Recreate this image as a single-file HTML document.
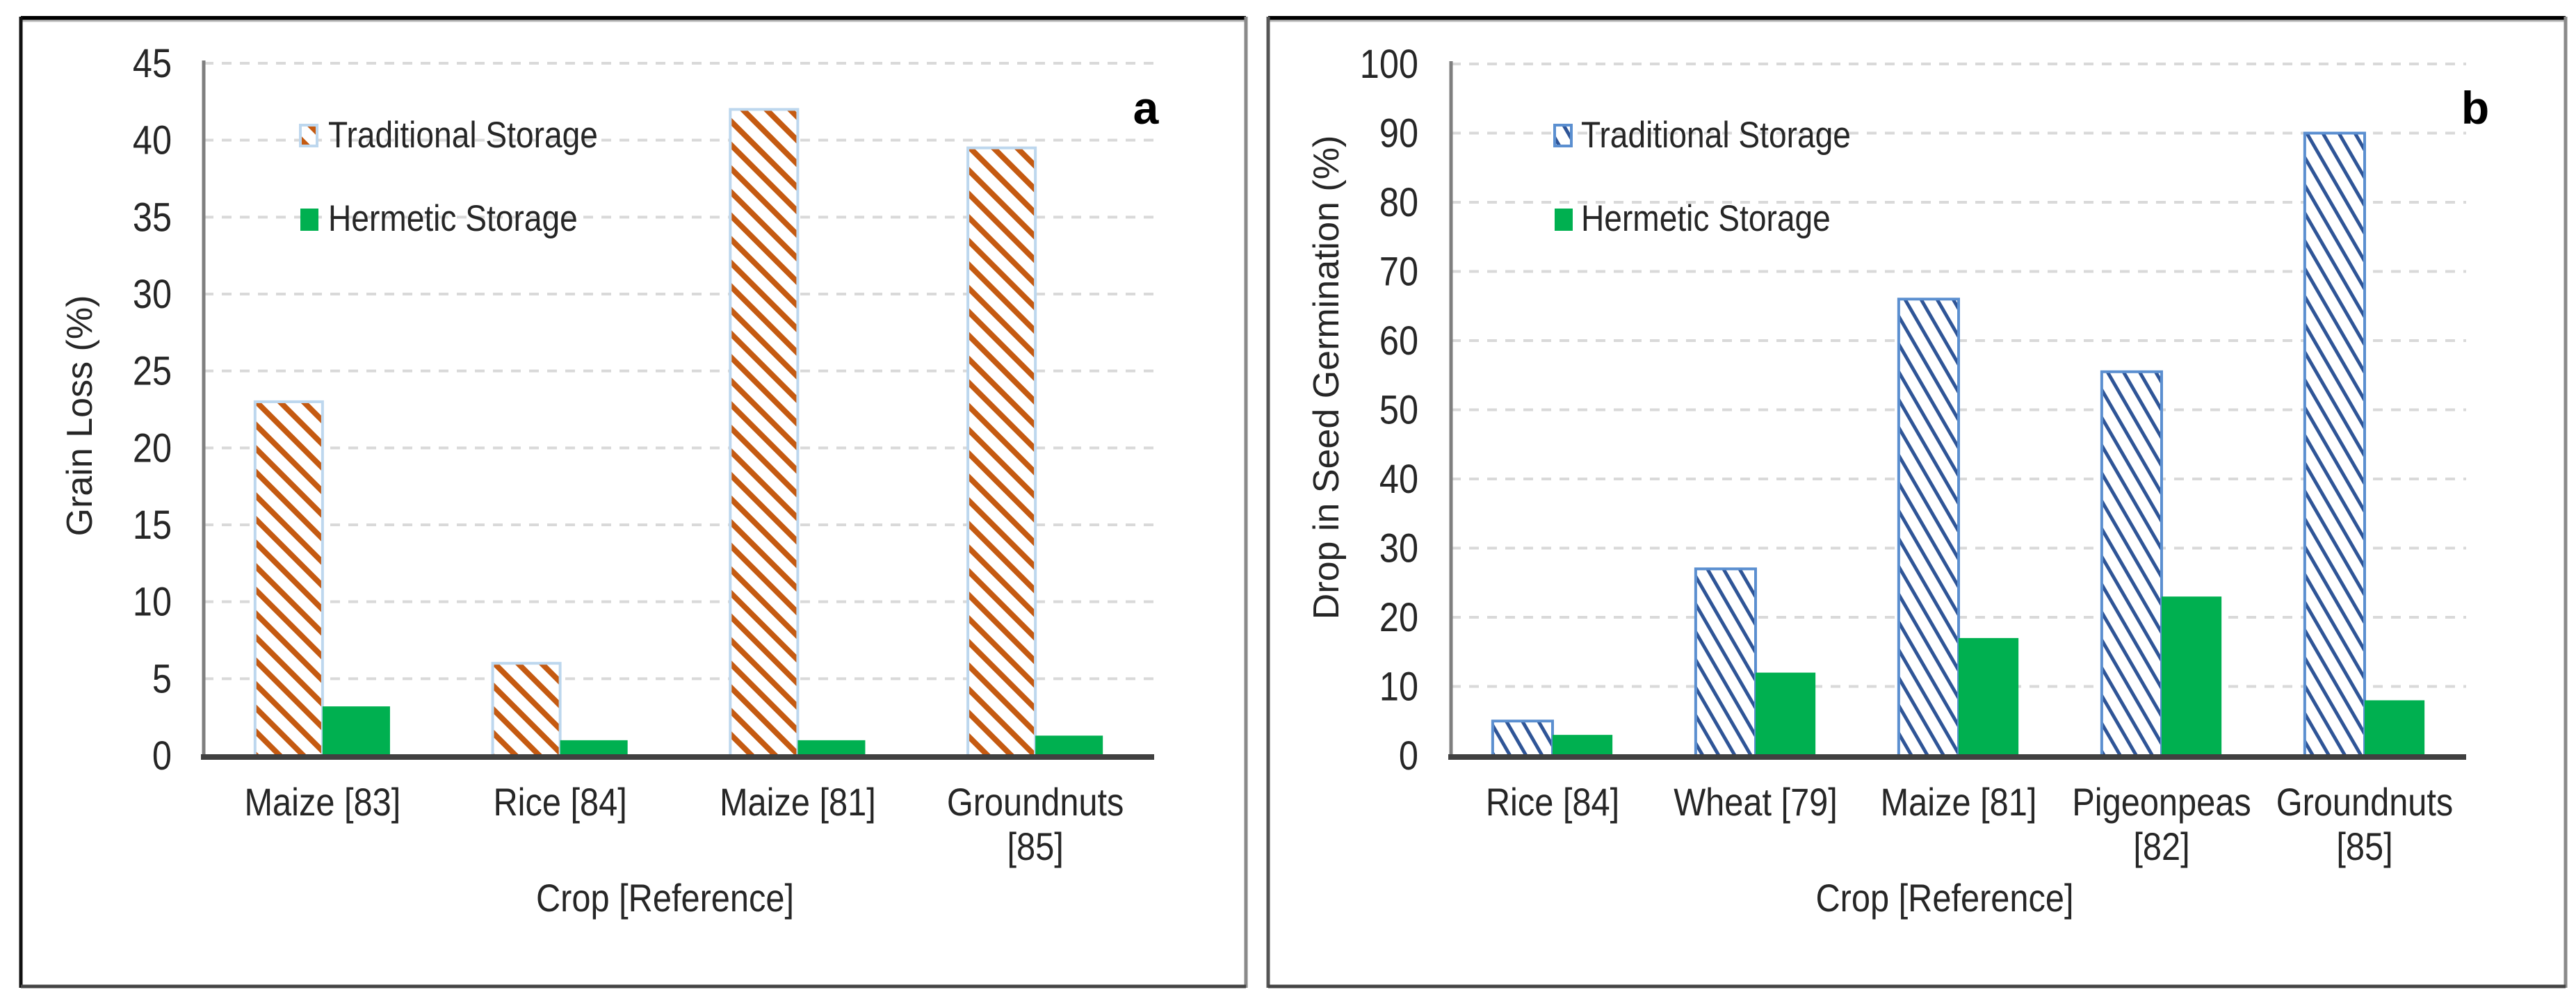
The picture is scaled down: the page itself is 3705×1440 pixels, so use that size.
<!DOCTYPE html>
<html><head><meta charset="utf-8"><style>
html,body{margin:0;padding:0;background:#fff;}
svg{display:block;font-family:"Liberation Sans",Arial,sans-serif;}
</style></head><body>
<svg id="fig" width="3705" height="1440" viewBox="0 0 3705 1440" xmlns="http://www.w3.org/2000/svg">
<defs>
<pattern id="hatchOrange" patternUnits="userSpaceOnUse" width="24" height="24" patternTransform="rotate(45)">
<rect width="24" height="24" fill="#fff"/><rect x="0" y="0" width="24" height="8" fill="#C55A11"/>
</pattern>
<pattern id="hatchBlue" patternUnits="userSpaceOnUse" width="20" height="20" patternTransform="rotate(60)">
<rect width="20" height="20" fill="#fff"/><rect x="0" y="0" width="20" height="5" fill="#2F5597"/>
</pattern>
</defs>
<rect width="3705" height="1440" fill="#fff"/>
<g id="panelA"></g>
<g id="panelB"></g>
</svg>
<script>
const catsA = [["Maize [83]"],["Rice [84]"],["Maize [81]"],["Groundnuts","[85]"]];
const tradA = [23, 6, 42, 39.5];
const hermA = [3.2, 1, 1, 1.3];
const ticksA = [0,5,10,15,20,25,30,35,40,45];

const catsB = [["Rice [84]"],["Wheat [79]"],["Maize [81]"],["Pigeonpeas","[82]"],["Groundnuts","[85]"]];
const tradB = [5, 27, 66, 55.5, 90];
const hermB = [3, 12, 17, 23, 8];
const ticksB = [0,10,20,30,40,50,60,70,80,90,100];

const NS="http://www.w3.org/2000/svg";
function mk(parent, tag, attrs, text){
  const e=document.createElementNS(NS,tag);
  for(const k in attrs) e.setAttribute(k,attrs[k]);
  if(text!==undefined) e.textContent=text;
  parent.appendChild(e);
  return e;
}
const narrow=[];

function panel(g, cfg){
  const {left,right,x0,x1,y0,y1,ymax,cats,trad,herm,ticks,fill,edge,ytitle,ytx,ytitleY,letter,letterX,legX,legTextX,barFrac}=cfg;
  const yS=v=>y0-(v/ymax)*(y0-y1);
  const band=(x1-x0)/cats.length;
  const bw=band*barFrac;
  let f;
  f=mk(g,'line',{x1:left,y1:26,x2:right,y2:26,stroke:'#000','stroke-width':6});
  
  f=mk(g,'line',{x1:left,y1:30,x2:right,y2:30,stroke:'#bbb','stroke-width':3});
  
  f=mk(g,'line',{x1:left,y1:24,x2:left,y2:1421,stroke:cfg.leftColor,'stroke-width':5});
  
  f=mk(g,'line',{x1:right,y1:24,x2:right,y2:1421,stroke:'#8a8a8a','stroke-width':5});
  
  f=mk(g,'line',{x1:left,y1:1419,x2:right,y2:1419,stroke:'#444','stroke-width':5});
  
  ticks.forEach(t=>{
    const y=yS(t);
    if(t>0){
      const gl=mk(g,'line',{x1:x0,y1:y,x2:x1,y2:y,stroke:'#d9d9d9','stroke-width':4,'stroke-dasharray':'14 12'});
      
      
    }
    const tl=mk(g,'text',{x:cfg.tickX,y:y+20,'font-size':58,'text-anchor':'end',fill:'#262626'},String(t));
    
    
    narrow.push(tl);
  });
  cats.forEach((c,i)=>{
    const cx=x0+(i+0.5)*band;
    const yt=yS(trad[i]);
    const b1=mk(g,'rect',{x:cx-bw,y:yt,width:bw,height:y0-yt,fill:fill,stroke:edge,'stroke-width':4});
    
    
    const yh=yS(herm[i]);
    const b2=mk(g,'rect',{x:cx,y:yh,width:bw,height:y0-yh,fill:'#00B050'});
    
    
    c.forEach((line,j)=>{
      const xl=mk(g,'text',{x:cx,y:1173+j*64,'font-size':56,'text-anchor':'middle',fill:'#262626'},line);
      
      
      narrow.push(xl);
    });
  });
  const ya=mk(g,'line',{x1:x0,y1:y1-4,x2:x0,y2:y0,stroke:'#7f7f7f','stroke-width':5});
  
  const xa=mk(g,'line',{x1:x0-4,y1:y0+2,x2:x1,y2:y0+2,stroke:'#404040','stroke-width':8});
  
  const xt=mk(g,'text',{x:(x0+x1)/2-20,y:1311,'font-size':56,'text-anchor':'middle',fill:'#262626'},'Crop [Reference]');
  
  narrow.push(xt);
  const yt=mk(g,'text',{x:0,y:0,'font-size':52,'text-anchor':'middle',fill:'#262626',transform:`translate(${ytx},${ytitleY}) rotate(-90)`},ytitle);
  
  const lt=mk(g,'text',{x:letterX,y:cfg.letterY,'font-size':66,'font-weight':'bold','text-anchor':'middle',fill:'#000'},letter);
  
  const m1=mk(g,'rect',{x:legX,y:cfg.leg1Y-32,width:24,height:30,fill:fill,stroke:edge,'stroke-width':4});
  
  const l1=mk(g,'text',{x:legTextX,y:cfg.leg1Y,'font-size':53,fill:'#262626'},'Traditional Storage');
  
  narrow.push(l1);
  const m2=mk(g,'rect',{x:legX,y:cfg.leg2Y-32,width:26,height:32,fill:'#00B050'});
  
  const l2=mk(g,'text',{x:legTextX,y:cfg.leg2Y,'font-size':53,fill:'#262626'},'Hermetic Storage');
  
  narrow.push(l2);
}

panel(document.getElementById('panelA'),{
  left:30,right:1792,x0:293,x1:1660,y0:1087,y1:91,ymax:45,cats:catsA,trad:tradA,herm:hermA,ticks:ticksA,
  fill:'url(#hatchOrange)',edge:'#BDD7EE',ytitle:'Grain Loss (%)',ytx:132,ytitleY:598,letter:'a',letterX:1648,letterY:178,
  legX:432,legTextX:472,leg1Y:212,leg2Y:332,barFrac:0.284,tickX:247,leftColor:'#111'
});
panel(document.getElementById('panelB'),{
  left:1824,right:3690,x0:2087,x1:3547,y0:1087,y1:92,ymax:100,cats:catsB,trad:tradB,herm:hermB,ticks:ticksB,
  fill:'url(#hatchBlue)',edge:'#5B8FD0',ytitle:'Drop in Seed Germination (%)',ytx:1925,ytitleY:543,letter:'b',letterX:3560,letterY:178,
  legX:2236,legTextX:2274,leg1Y:212,leg2Y:332,barFrac:0.295,tickX:2040,leftColor:'#555'
});
narrow.forEach(t=>{
  const L=t.getComputedTextLength();
  t.setAttribute('textLength',(L*0.87).toFixed(1));
  t.setAttribute('lengthAdjust','spacingAndGlyphs');
});
</script>
</body></html>
